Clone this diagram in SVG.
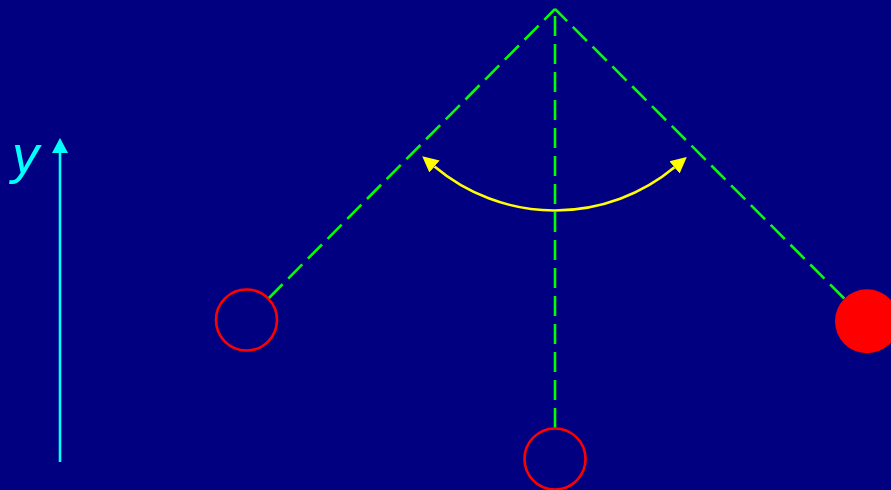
<svg xmlns="http://www.w3.org/2000/svg" width="891" height="490" viewBox="0 0 891 490">
<style>
.rod{stroke:#00FF00;stroke-width:2.6;stroke-dasharray:20 8;fill:none}
.bob{stroke:#FF0000;stroke-width:2.6;fill:none}
.bobf{fill:#FF0000;stroke:none}
.swing{stroke:#FFFF00;stroke-width:2.6;fill:none}
.axis{stroke:#00FFFF;stroke-width:2.6;fill:none}
.lbl{font-family:"Liberation Sans","DejaVu Sans",Arial,sans-serif;font-style:italic;font-size:54px;fill:#00FFFF}
</style>
<defs>
<marker id="ay" viewBox="0 -9 18 18" markerWidth="18" markerHeight="18" refX="0" refY="0" orient="auto-start-reverse" markerUnits="userSpaceOnUse">
<path d="M0,-8 L16,0 L0,8 z" fill="#FFFF00"/>
</marker>
<marker id="ac" viewBox="0 -9 18 18" markerWidth="18" markerHeight="18" refX="0" refY="0" orient="auto" markerUnits="userSpaceOnUse">
<path d="M0,-8 L15,0 L0,8 z" fill="#00FFFF"/>
</marker>
</defs>
<rect x="0" y="0" width="891" height="490" fill="#000080"/>
<g id="connectors">
<line class="rod" x1="268.5" y1="298.5" x2="555" y2="9"/>
<line class="rod" x1="555" y1="428" x2="555" y2="8"/>
<line class="rod" x1="844.2" y1="298.5" x2="555" y2="9"/>
<path class="swing" d="M434.5,166.5 A187,187 0 0,0 674.5,167.3" marker-start="url(#ay)" marker-end="url(#ay)"/>
</g>
<g id="axis-y">
<line class="axis" x1="60" y1="462" x2="60" y2="153" marker-end="url(#ac)"/>
<text class="lbl" x="12" y="173">y</text>
</g>
<g id="bob-left"><circle class="bob" cx="246.5" cy="320" r="30.5"/></g>
<g id="bob-bottom"><circle class="bob" cx="555" cy="459" r="30.5"/></g>
<g id="bob-right"><circle class="bobf" cx="867" cy="321.3" r="32"/></g>
</svg>
